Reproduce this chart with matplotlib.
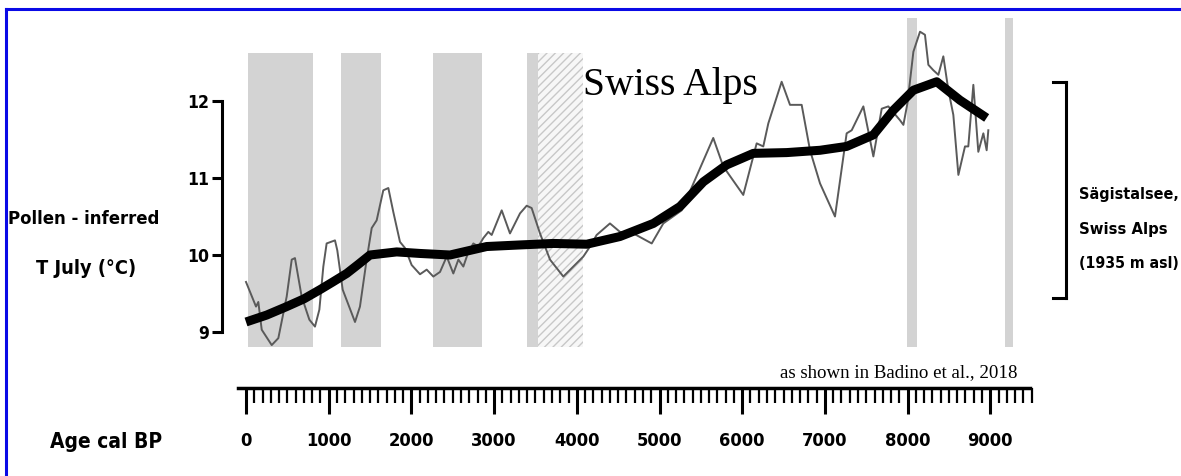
import numpy as np
import matplotlib
matplotlib.use('Agg')
import matplotlib.pyplot as plt
from matplotlib.lines import Line2D
from matplotlib.ticker import FixedLocator
from matplotlib import font_manager
from matplotlib.font_manager import FontProperties

# thin curve: pollen-inferred July temperature (age cal BP, deg C)
age = [0, 121, 149, 190, 311, 391, 492, 553, 592, 673, 766, 834, 887, 935, 975,
       1076, 1104, 1169, 1318, 1378, 1459, 1520, 1580, 1660, 1721, 1781, 1862, 1923,
       2003, 2104, 2185, 2265, 2346, 2427, 2507, 2568, 2628, 2689, 2749, 2809, 2870,
       2930, 2971, 3092, 3192, 3313, 3394, 3454, 3555, 3676, 3837, 3958, 4079, 4160,
       4240, 4401, 4522, 4684, 4906, 5046, 5268, 5650, 5771, 6013, 6175, 6255, 6316,
       6477, 6578, 6719, 6820, 6941, 7122, 7263, 7324, 7465, 7586, 7687, 7767, 7908,
       7949, 7998, 8070, 8150, 8210, 8251, 8311, 8372, 8432, 8493, 8553, 8614, 8694,
       8734, 8795, 8855, 8916, 8956, 8976]
temp = [9.65, 9.33, 9.39, 9.03, 8.83, 8.92, 9.46, 9.94, 9.96, 9.46, 9.16, 9.07, 9.29, 9.85, 10.15,
        10.19, 10.06, 9.55, 9.13, 9.33, 9.94, 10.35, 10.45, 10.84, 10.87, 10.56, 10.17, 10.09,
        9.87, 9.75, 9.81, 9.72, 9.78, 9.98, 9.76, 9.94, 9.85, 10.04, 10.15, 10.11, 10.22,
        10.30, 10.26, 10.58, 10.28, 10.54, 10.64, 10.61, 10.28, 9.94, 9.72, 9.85, 9.98, 10.11,
        10.26, 10.41, 10.30, 10.28, 10.15, 10.41, 10.58, 11.52, 11.15, 10.78, 11.45, 11.41, 11.71,
        12.25, 11.95, 11.95, 11.36, 10.93, 10.50, 11.58, 11.62, 11.93, 11.28, 11.90, 11.93, 11.75,
        11.69, 11.97, 12.64, 12.90, 12.86, 12.47, 12.40, 12.34, 12.58, 12.14, 11.82, 11.04, 11.41,
        11.41, 12.21, 11.34, 11.58, 11.36, 11.62]

# thick smoothed curve
age_smooth = [0, 250, 492, 700, 895, 1050, 1217, 1360, 1499, 1822, 2104, 2467, 2910, 3300,
              3716, 4120, 4522, 4926, 5248, 5530, 5812, 6135, 6538, 6941, 7263, 7586,
              7828, 8070, 8352, 8634, 8956]
temp_smooth = [9.13, 9.22, 9.33, 9.43, 9.55, 9.65, 9.76, 9.88, 10.0, 10.04, 10.02, 10.0, 10.11, 10.13,
               10.15, 10.14, 10.24, 10.41, 10.63, 10.95, 11.17, 11.32, 11.33, 11.36, 11.41, 11.56,
               11.88, 12.14, 12.25, 12.01, 11.78]

# shaded intervals (cal BP)
bar_start = [28, 1145, 2265, 3394, 7989, 9178]
bar_end = [806, 1629, 2850, 3534, 8110, 9271]
bar_top = [12.62, 12.62, 12.62, 12.62, 13.08, 13.08]
bar_bottom = 8.81
hatch_start = 3534
hatch_end = 4079

yticks = [9, 10, 11, 12]
xticks = list(range(0, 9001, 1000))


def pick_condensed_bold():
    # look for a narrow / condensed bold sans among the installed fonts
    prefs = ['liberation sans narrow', 'dejavu sans', 'roboto', 'noto sans', 'open sans', 'lato', 'inter']
    found = []
    for f in font_manager.fontManager.ttflist:
        fn = f.fname.lower().replace('-', '').replace('_', '').replace(' ', '')
        if ('condensedbold' in fn or 'narrowbold' in fn) and 'italic' not in fn and 'oblique' not in fn:
            rank = next((i for i, p in enumerate(prefs) if p in f.name.lower()), len(prefs))
            found.append((rank, f.fname))
    if found:
        return FontProperties(fname=sorted(found)[0][1])
    return FontProperties(family=['Roboto', 'DejaVu Sans'], weight='bold')


bold = pick_condensed_bold()
serif = FontProperties(family='Liberation Serif', weight='normal')

W, H = 1181, 476
fig = plt.figure(figsize=(W / 100, H / 100), dpi=100)
renderer = fig.canvas.get_renderer()


def fx(x):
    return x / W


def fy(y):
    return 1 - y / H


def size_for(s, target_px, max_size):
    t = fig.text(0, 0, s, fontproperties=bold, fontsize=20)
    w = t.get_window_extent(renderer).width
    t.remove()
    return min(20 * target_px / w, max_size)


def label(x, y, s, target_px, max_size, **kw):
    return fig.text(fx(x), fy(y), s, fontproperties=bold,
                    fontsize=size_for(s, target_px, max_size), **kw)


# main panel, positioned in pixels: x=0 at px 246 (82.7 px/1000 yr), 12 degC at px 101 (77 px/degC)
ax = fig.add_axes([fx(222), fy(370), 818 / W, 355 / H])
ax.set_xlim((222 - 246) / 0.0827, (1040 - 246) / 0.0827)
ax.set_ylim(12 - (370 - 101) / 77, 12 + (101 - 15) / 77)
ax.patch.set_alpha(0)

widths = [e - s for s, e in zip(bar_start, bar_end)]
heights = [t - bar_bottom for t in bar_top]
ax.bar(bar_start, heights, width=widths, bottom=bar_bottom, align='edge',
       color='#d3d3d3', linewidth=0, zorder=1)
ax.bar(hatch_start, 12.62 - bar_bottom, width=hatch_end - hatch_start, bottom=bar_bottom,
       align='edge', facecolor='#f7f7f7', edgecolor='#c8c8c8', hatch='////', linewidth=0, zorder=1)

ax.plot(age, temp, color='#5a5a5a', lw=1.4, zorder=3)
ax.plot(age_smooth, temp_smooth, color='black', lw=6.5, zorder=4, solid_capstyle='butt')

for s in ['top', 'right', 'bottom']:
    ax.spines[s].set_visible(False)
ax.spines['left'].set_bounds(9, 12)
ax.spines['left'].set_linewidth(2.2)
ytick_fp = bold.copy()
ytick_fp.set_size(size_for('12', 22, 24))
ax.set_yticks(yticks)
ax.set_yticklabels([str(t) for t in yticks], fontproperties=ytick_fp)
ax.tick_params(axis='y', direction='out', length=7, width=2.2, pad=2)
ax.set_xticks([])

# separate age axis below the panel
ax2 = fig.add_axes([fx(222), fy(388), 818 / W, 0.002])
ax2.set_xlim(ax.get_xlim())
ax2.patch.set_alpha(0)
for s in ['top', 'right', 'left']:
    ax2.spines[s].set_visible(False)
ax2.spines['bottom'].set_bounds(-97, 9480)
ax2.spines['bottom'].set_linewidth(2.5)
ax2.set_yticks([])
xtick_fp = bold.copy()
xtick_fp.set_size(size_for('9000', 46, 24))
ax2.set_xticks(xticks)
ax2.set_xticklabels([str(t) for t in xticks], fontproperties=xtick_fp)
ax2.xaxis.set_minor_locator(FixedLocator(np.arange(0, 9501, 100)))
ax2.tick_params(axis='x', which='major', direction='out', length=19, width=2.2, pad=13)
ax2.tick_params(axis='x', which='minor', direction='out', length=11, width=1.6)

# texts
fig.text(fx(670), fy(95), 'Swiss Alps', fontproperties=serif,
         fontsize=28.5, ha='center', va='baseline')
fig.text(fx(1018), fy(377), 'as shown in Badino et al., 2018', fontproperties=serif,
         fontsize=13.6, ha='right', va='baseline')
label(84, 219, 'Pollen - inferred', 152, 26, ha='center', va='center')
label(86, 268, 'T July (°C)', 100, 26, ha='center', va='center')
label(106, 442, 'Age cal BP', 112, 26, ha='center', va='center')
label(1079, 199, 'Sägistalsee,', 100, 22, ha='left', va='baseline')
label(1079, 234, 'Swiss Alps', 88, 22, ha='left', va='baseline')
label(1079, 268, '(1935 m asl)', 100, 22, ha='left', va='baseline')

# bracket on the right
for xs, ys in [([1066, 1066], [82, 298]), ([1053, 1066], [82, 82]), ([1053, 1066], [298, 298])]:
    fig.add_artist(Line2D([fx(v) for v in xs], [fy(v) for v in ys], color='black', lw=2.2))

# blue frame
fig.add_artist(Line2D([fx(6), fx(6)], [fy(9), fy(476)], color='#0a0ae6', lw=2.2))
fig.add_artist(Line2D([fx(6), fx(1181)], [fy(9), fy(9)], color='#0a0ae6', lw=2.2))

fig.savefig('out.png', dpi=100)
